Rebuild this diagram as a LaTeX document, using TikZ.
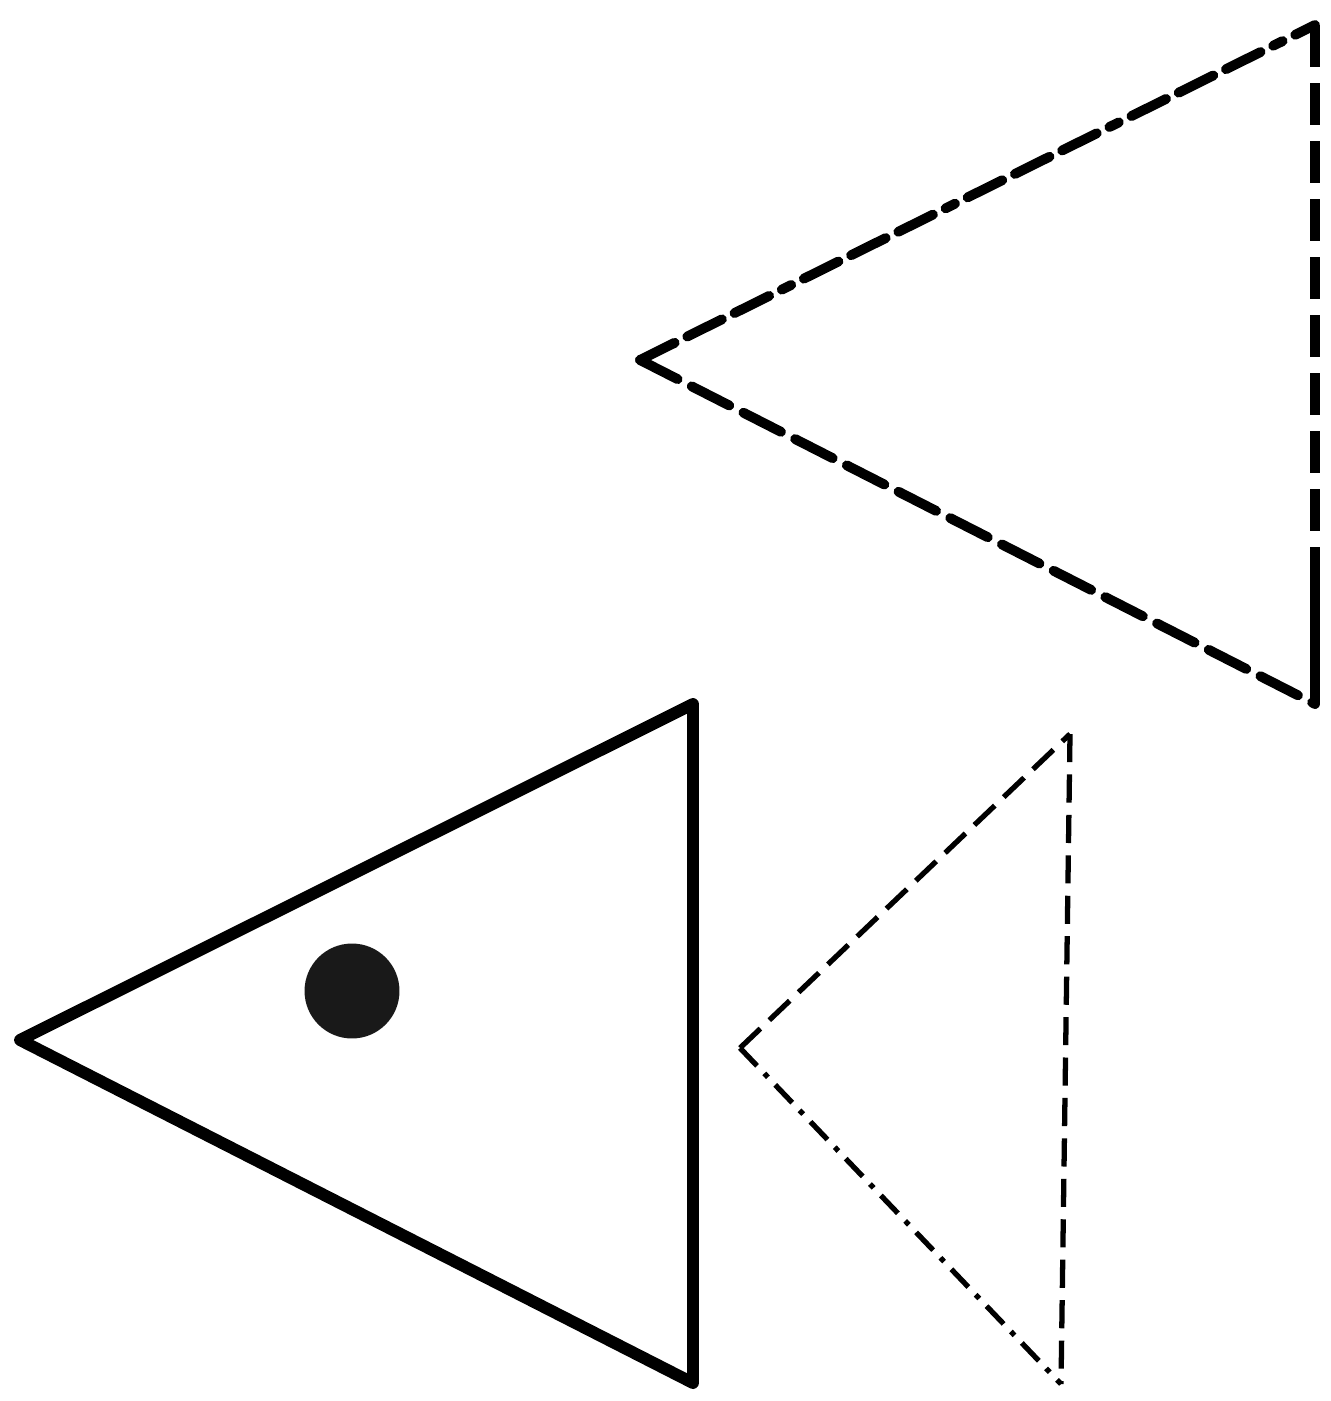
\documentclass[tikz,border=0pt]{standalone}
\usetikzlibrary{calc}
\tikzset{
  bigedge/.style={line width=3.4pt, line join=round, line cap=round},
  farside/.style={line width=2.8pt},
  farlong/.style={farside, dash pattern=on 12pt off 4.5pt},
  fardot/.style={farside, dash pattern=on 11pt off 4pt on 11pt off 4pt on 11pt off 4pt on 3pt off 4pt},
  nearside/.style={line width=1.5pt},
  neardash/.style={nearside, dash pattern=on 8pt off 3.5pt},
  neardot/.style={nearside, dash pattern=on 7pt off 3pt on 1.5pt off 3pt},
  eye/.style={circle, fill=black!90, inner sep=0pt, minimum size=27pt},
}
\begin{document}
\begin{tikzpicture}[x=0.01cm, y=-0.01cm]
  \useasboundingbox (0,0) rectangle (1330,1401);
  % solid triangle
  \coordinate (Bl) at (20,1040);
  \coordinate (Bt) at (693,704);
  \coordinate (Bb) at (693,1383);
  \draw[bigedge] (Bl) -- (Bt) -- (Bb) -- cycle;
  \node[eye] (eye) at (352,991) {};
  % far triangle
  \coordinate (Fl) at (640,360);
  \coordinate (Ft) at (1315,25);
  \coordinate (Fb) at (1315,704);
  \coordinate (Fm) at (1315,560);
  \draw[fardot, line cap=round] (Fl) -- (Ft);
  \draw[farlong, line cap=round] (Fl) -- (Fb);
  \draw[farlong] (Ft) -- (Fm);
  \draw[farside, line cap=round] (Fm) -- (Fb);
  % near triangle
  \coordinate (Nl) at (740,1048);
  \coordinate (Nt) at (1070,734);
  \coordinate (Nb) at (1061,1384);
  \draw[neardash] (Nl) -- (Nt);
  \draw[neardot] (Nl) -- (Nb);
  \draw[neardash] (Nt) -- (Nb);
\end{tikzpicture}
\end{document}
